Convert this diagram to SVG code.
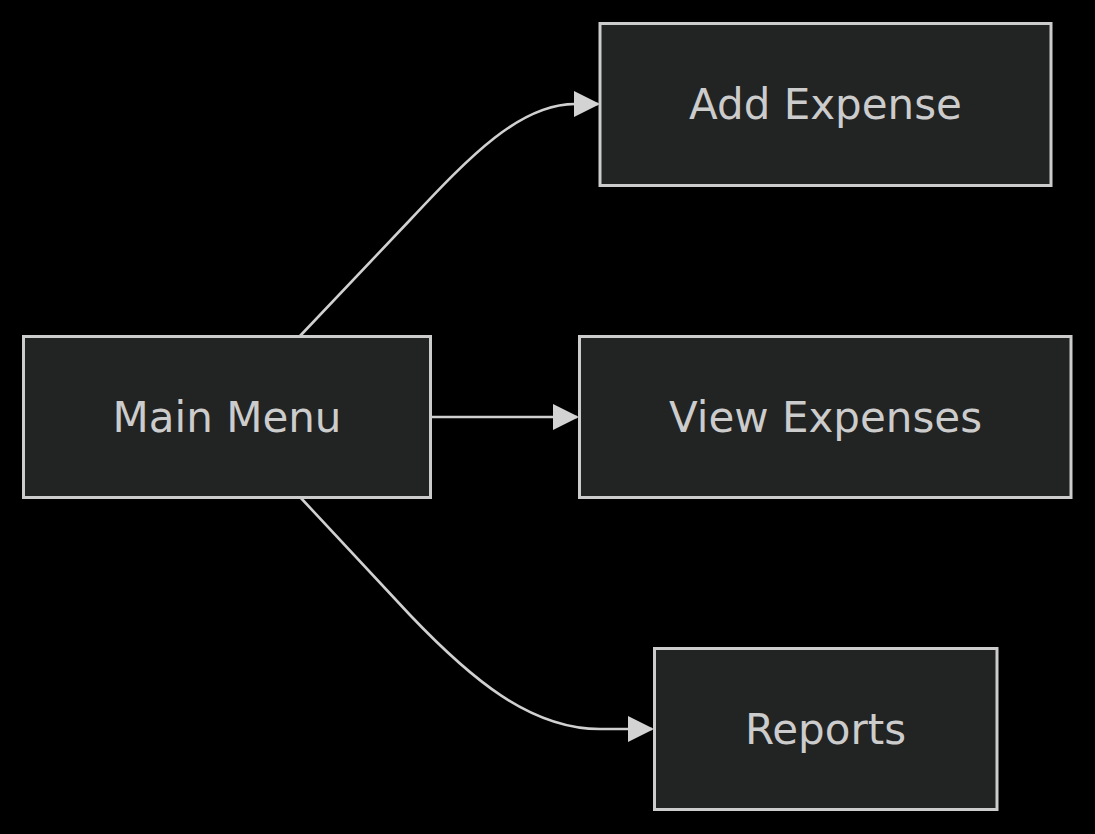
<svg xmlns="http://www.w3.org/2000/svg" width="1095" height="834" viewBox="0 0 1095 834">
<style>
.node rect{fill:#222323;stroke:#cccccc;stroke-width:3}
.node text{fill:#cccccc;font-family:"DejaVu Sans",Verdana,sans-serif;font-size:42px;text-anchor:middle;dominant-baseline:central}
.edge{fill:none;stroke:#d0d0d0;stroke-width:2.6}
</style>
<defs>
<marker id="arr" markerUnits="userSpaceOnUse" markerWidth="26" markerHeight="26" refX="24" refY="13" orient="auto">
<path d="M0,0 L26,13 L0,26 Z" fill="#d3d3d3"/>
</marker>
</defs>
<rect width="1095" height="834" fill="#000"/>
<g id="connectors">
<path class="edge" d="M300,336 L410,220 C470,156 520,104 575,104 L598,104" marker-end="url(#arr)"/>
<path class="edge" d="M430,417 L577,417" marker-end="url(#arr)"/>
<path class="edge" d="M300,497 L410,615 C470,678 530,729 600,729 L652,729" marker-end="url(#arr)"/>
</g>
<g id="main" class="node"><rect x="23.5" y="336.5" width="407" height="161"/><text x="227" y="417">Main Menu</text></g>
<g id="add" class="node"><rect x="600" y="23.5" width="451" height="162"/><text x="825.5" y="104">Add Expense</text></g>
<g id="view" class="node"><rect x="579.5" y="336.5" width="491.5" height="161"/><text x="825.5" y="417">View Expenses</text></g>
<g id="reports" class="node"><rect x="654.5" y="648.5" width="342.5" height="161"/><text x="825.5" y="729">Reports</text></g>
</svg>
